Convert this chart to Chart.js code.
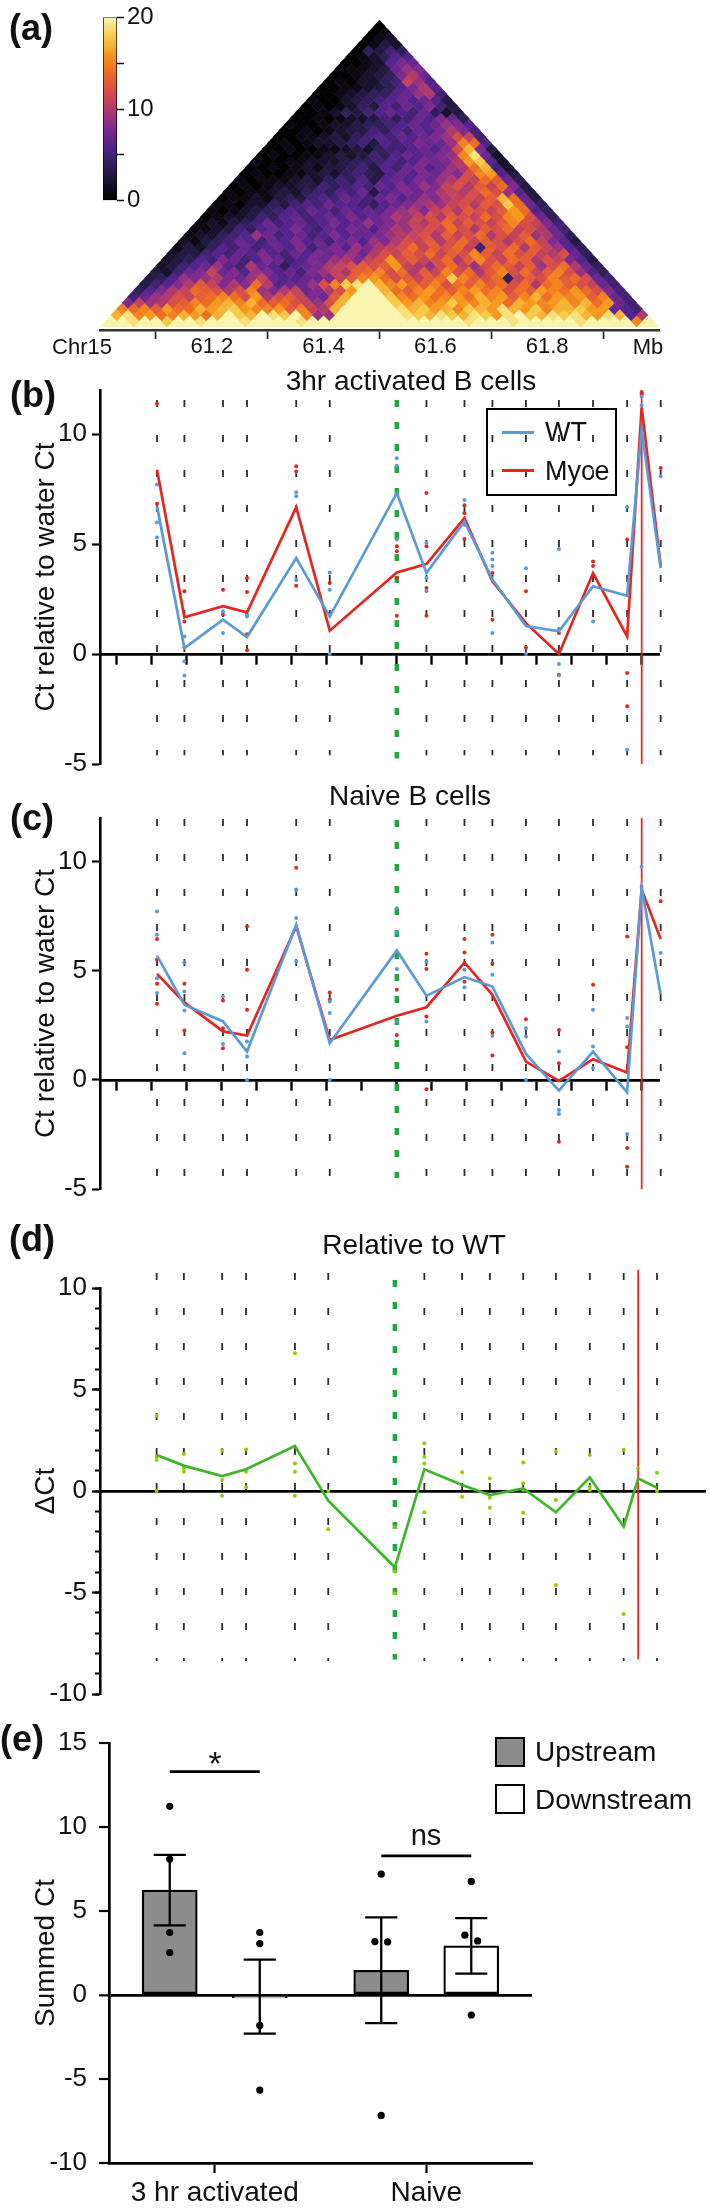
<!DOCTYPE html>
<html>
<head>
<meta charset="utf-8">
<script src="https://cdn.jsdelivr.net/npm/chart.js@4.4.0/dist/chart.umd.min.js"></script>
<style>
  html, body { margin: 0; padding: 0; background: #fff; }
  #page { position: relative; width: 709px; height: 2210px; overflow: hidden;
          font-family: 'Liberation Sans', Arial, Helvetica, sans-serif; font-stretch: normal; color: #111; }
  canvas { position: absolute; left: 0; }
  .c { position: absolute; transform: translate(-50%, -50%); line-height: 1; white-space: nowrap; }
  .l { position: absolute; transform: translate(0, -50%); line-height: 1; white-space: nowrap; }
  .tag { font-weight: bold; font-size: 36px; }
  .ttl { font-size: 28px; }
  .box { position: absolute; box-sizing: border-box; border: 2px solid #000; }
  .swatch { position: absolute; height: 3px; width: 32px; }
</style>
</head>
<body>
<div id="page">
  <canvas id="hic" width="709" height="360" style="top:0px"></canvas>
  <canvas id="cbar" width="130" height="218" style="top:0px; left:60px"></canvas>
  <canvas id="panelB" width="709" height="440" style="top:355px"></canvas>
  <canvas id="panelC" width="709" height="420" style="top:795px"></canvas>
  <canvas id="panelD" width="709" height="500" style="top:1215px"></canvas>
  <canvas id="panelE" width="709" height="495" style="top:1715px"></canvas>

  <div class="c tag" style="left:31px; top:28px">(a)</div>
  <div class="c tag" style="left:33px; top:395px">(b)</div>
  <div class="c tag" style="left:32px; top:818px">(c)</div>
  <div class="c tag" style="left:32px; top:1239px">(d)</div>
  <div class="c tag" style="left:22px; top:1739px">(e)</div>

  <div class="c" style="left:82px; top:347px; font-size:22px">Chr15</div>
  <div class="c" style="left:648px; top:347px; font-size:22px">Mb</div>

  <div class="c ttl" style="left:411px; top:381px">3hr activated B cells</div>
  <div class="c ttl" style="left:410px; top:796px">Naive B cells</div>
  <div class="c ttl" style="left:414px; top:1245px">Relative to WT</div>

  <div class="box" style="left:486px; top:408px; width:131px; height:88px"></div>
  <div class="swatch" style="left:502px; top:431px; background:#5a9ad6"></div>
  <div class="swatch" style="left:502px; top:469px; background:#e4261f"></div>
  <div class="l" style="left:545px; top:432px; font-size:27px">WT</div>
  <div class="l" style="left:545px; top:471px; font-size:27px">Myce</div>

  <div class="box" style="left:495px; top:1737px; width:30px; height:30px; background:#8c8c8c"></div>
  <div class="box" style="left:495px; top:1784px; width:30px; height:30px; background:#fff"></div>
  <div class="l" style="left:535px; top:1752px; font-size:28px">Upstream</div>
  <div class="l" style="left:535px; top:1800px; font-size:28px">Downstream</div>

  <div class="c" style="left:215px; top:1763px; font-size:34px">*</div>
  <div class="c" style="left:426px; top:1835px; font-size:29px">ns</div>
</div>

<script>
// ---------- (a) Hi-C map, one string per diagonal distance, one char per bin (base-36 level 0..20)
const hicStart = 61.0;
const hicBin = 0.02;
const hicRows = [
  "kkkkkkkkkkkkkkkkkkkkkkkkkkkkkkkkkkkkkkkkkkkkkkkkkk",
  "kkjkkikkjkkkjkkkkjkkkkkkkkkkkkkkjkkkjkkkkkjkkkkfk",
  "hjfgefhgehkihkjikf99kkkkkkjihjihjigjkihjijhgjh6a",
  "fefdgeehghigffgdfbahkkkkkjhighfihgjhgifhhigg765",
  "8b9acdfeghfhedecb9chkkkkighfgigfhgehgfghfheg75",
  "579acbdefecgacdb87dhkkkifegefgehfgdfhegfgdf75",
  "468abedcacf98ab78acgkkhedfgedfgefcedgfegec85",
  "3568adb8a8ea6779cfijkhfgedfcedfdeceaefdcb75",
  "346989a879b766778bdfgecdbdeifdce4bdcfdec75",
  "32578b7869867589badefceadbfceadfcebdfc964",
  "23567965a764678abcdcdgba9ceb9cedbd9cea74",
  "2346587568756879a8bcgcdbceadfcbedacb863",
  "233565768657687897acbdcebdcfdbecdbac74",
  "132465756768578698abcebdceb5dceadb964",
  "2134576576867578698acbdacebdcaceb863",
  "1224569756756867789abcadbceacbd9a74",
  "112354676865768768a9bcbecadcebca75",
  "1213457567568679789bacebdcbdfcb85",
  "01223546756768678a9bcadcbecfgc74",
  "101234565765767689a8bcadcbdge64",
  "1102243565766546789a9bcadcie74",
  "01121343565765786798abcbdhe73",
  "1011232454657367878abacec963",
  "0101223354565768798bcadbe83",
  "1011123245463676879acbed74",
  "01001123245436768798cfg63",
  "0010121334536578679aeh52",
  "100112223445656878agi62",
  "010011232354676789fj72",
  "00100112324556768ch83",
  "01012234536568779fe6",
  "0011232456576789cb5",
  "001012335465768a85",
  "10012234456767986",
  "0010122354576874",
  "001243567657423",
  "01012436576853",
  "1002345676763",
  "0012344679a5",
  "001123468a6",
  "0102245b96",
  "0012348a7",
  "01123798",
  "0012687",
  "012466",
  "04354",
  "0132",
  "012",
  "01",
  "0"
];
const mbTicks = [61.0, 61.1, 61.2, 61.3, 61.4, 61.5, 61.6, 61.7, 61.8, 61.9, 62.0];
const mbTickLabels = ['', '', '61.2', '', '61.4', '', '61.6', '', '61.8', '', ''];
const colorbarTicks = [0, 5, 10, 15, 20];
const colorbarLabels = ['0', '', '10', '', '20'];

// ---------- (b)-(d) primer positions along chr15 (Mb)
const probePos = [61.102, 61.151, 61.220, 61.263, 61.351, 61.411, 61.531, 61.584,
                  61.652, 61.702, 61.762, 61.821, 61.882, 61.943, 61.969, 62.003];
const greenIdx = 6;
const redIdx = 14;
const zeroAxisTicks = [61.030, 61.093, 61.155, 61.218, 61.280, 61.343, 61.406, 61.468,
                       61.531, 61.593, 61.656, 61.719, 61.781, 61.844, 61.906, 61.969];

// (b) 3hr activated, mean lines
const actWT   = [6.71, 0.27, 1.56, 0.77, 4.36, 1.70, 7.32, 3.68, 6.03, 3.38, 1.27, 1.03, 3.08, 2.65, 10.2, 3.9];
const actMyce = [8.38, 1.67, 2.17, 1.89, 6.67, 1.06, 3.71, 4.09, 6.18, 3.30, 1.40, 0.00, 3.68, 0.80, 11.2, 4.0];
// replicates: [probe index, value]
const actWTReps = [[0,7.7],[0,5.98],[0,5.3],[1,0.8],[1,-0.33],[1,-0.98],[2,1.94],[2,0.95],
  [3,1.71],[3,1.79],[4,7.35],[4,7.17],[4,3.38],[5,3.71],[5,2.92],[5,0],[6,8.9],[6,8.56],[6,5.2],
  [7,5.05],[7,3.45],[7,2.85],[8,7.0],[8,5.88],[9,4.6],[9,4.29],[9,4.0],[9,0.95],[10,3.9],[10,0],
  [11,4.77],[11,1.15],[11,-0.45],[11,-0.98],[12,1.48],[13,6.67],[13,-4.35],[14,11.7],[14,11.3],
  [15,8.08],[15,7.55]];
const actMyceReps = [[0,11.38],[0,6.83],[1,2.85],[1,1.48],[1,0.3],[2,2.92],[2,1.79],[3,3.45],
  [3,2.82],[3,0.9],[3,0.17],[4,8.53],[4,8.3],[4,3.1],[5,3.23],[6,4.9],[6,4.67],[6,3.45],[6,1.74],
  [7,7.32],[7,4.9],[7,3.0],[7,1.74],[8,6.76],[8,6.4],[8,5.23],[9,3.68],[9,1.56],[10,2.85],[10,0.3],
  [11,0.95],[11,-0.94],[12,4.2],[12,4.0],[13,5.2],[13,-0.86],[13,-2.38],[14,11.9],[14,11.8],
  [15,8.45],[15,8.3]];

// (c) naive
const naiveWT   = [5.69, 3.44, 2.68, 1.30, 7.11, 1.68, 5.93, 3.85, 4.71, 4.28, 1.19, -0.49, 1.30, -0.57, 8.79, 3.9];
const naiveMyce = [4.86, 3.55, 2.22, 2.03, 7.03, 1.83, 2.94, 3.33, 5.38, 3.90, 0.84, -0.05, 0.95, 0.34, 8.72, 6.45];
const naiveWTReps = [[0,7.72],[0,6.65],[0,4.66],[0,3.98],[1,5.38],[1,4.05],[1,3.18],[1,1.22],
  [2,3.82],[2,1.64],[3,1.76],[3,1.07],[3,0],[4,8.72],[4,7.42],[4,5.43],[4,8.7],[5,3.59],[5,3.06],[5,0],
  [6,7.87],[6,6.76],[6,5.08],[6,2.68],[7,5.43],[7,2.68],[8,5.05],[8,4.25],[9,6.3],[9,4.82],[9,2.02],
  [10,2.37],[10,1.99],[10,0],[11,1.3],[11,-1.38],[11,-1.56],[12,3.21],[12,1.53],[12,0.54],
  [13,2.83],[13,2.45],[13,-2.48],[14,9.77],[14,8.85],[15,5.81],[15,3.44],[15,2.83]];
const naiveMyceReps = [[0,6.45],[0,5.5],[0,4.4],[0,3.49],[1,4.4],[1,2.26],[2,3.64],[2,2.37],[2,1.45],
  [3,5.05],[3,3.21],[3,7.03],[4,9.72],[5,4.0],[5,3.67],[6,4.13],[6,2.06],[7,5.78],[7,5.08],[7,2.9],
  [7,-0.43],[8,6.45],[8,5.84],[8,4.5],[9,6.65],[9,5.32],[9,2.17],[9,1.12],[10,2.78],[11,2.29],
  [11,0.76],[11,-2.84],[12,4.36],[13,6.57],[13,1.5],[13,-3.12],[13,-3.98],[15,8.18],[15,7.77],
  [15,5.5],[15,4.36]];

// (d) delta Ct relative to WT
const deltaCt = [1.77, 1.25, 0.74, 1.07, 2.22, -0.48, -3.76, 1.07, 0.30, -0.20, 0.13, -1.05, 0.67, -1.76, 0.62, 0.16];
const deltaReps = [[0,3.71],[0,1.69],[0,1.53],[0,0],[1,1.82],[1,1.12],[1,0.95],[2,1.99],[2,0.54],
  [2,-0.23],[3,2.05],[3,0.95],[3,0.18],[4,6.78],[4,1.36],[4,0.95],[4,-0.23],[5,0],[5,-1.89],
  [6,-1.79],[6,-3.97],[6,-5.04],[7,2.35],[7,1.69],[7,1.36],[7,-1.05],[8,0.92],[8,-0.28],
  [9,0.62],[9,-0.33],[9,-0.82],[10,1.41],[10,0.38],[10,0.05],[10,-1.07],[11,1.94],[11,-0.44],
  [11,-4.63],[12,1.77],[12,0.21],[12,0.05],[13,2.02],[13,-6.06],[14,1.12],[15,0.9],[15,0]];

// (e) summed Ct
const conditions = ['3 hr activated', 'Naive'];
const upstreamMean = [6.24, 1.47];
const upstreamSem = [2.1, 3.15];
const downstreamMean = [-0.1, 2.92];
const downstreamSem = [2.2, 1.65];
const upstreamPts = [[11.23, 8.09, 3.72, 2.53], [7.19, 3.18, 3.16, -7.17]];
const downstreamPts = [[3.72, 3.06, -1.81, -5.66], [6.76, 3.56, 3.22, -1.19]];
const upstreamJitter = [[0, 0, 0, 0], [0, -0.03, 0.03, 0]];
const downstreamJitter = [[0, 0, 0, 0], [0, -0.03, 0.03, 0]];
const sigLevels = [13.3, 8.28];

// ---------- colour map for the Hi-C panel
const cmapStops = [[0,'#000000'],[2,'#171229'],[4,'#311f5c'],[6,'#55238c'],[8,'#7f2a8e'],
  [10,'#b03b6b'],[12,'#d74f47'],[14,'#ee6d25'],[16,'#f69a1f'],[18,'#f7cb4a'],[20,'#f9f4ae']];

function hexRgb(h) {
  const n = parseInt(h.slice(1), 16);
  return [n >> 16, (n >> 8) & 255, n & 255];
}
function colorFor(v) {
  for (let k = 1; k < cmapStops.length; k++) {
    if (v <= cmapStops[k][0]) {
      const [v0, c0] = cmapStops[k - 1];
      const [v1, c1] = cmapStops[k];
      const t = (v - v0) / (v1 - v0);
      const a = hexRgb(c0), b = hexRgb(c1);
      return 'rgb(' + a.map((x, q) => Math.round(x + (b[q] - x) * t)).join(',') + ')';
    }
  }
  return cmapStops[cmapStops.length - 1][1];
}

Chart.defaults.font.family = "'Liberation Sans', Arial, Helvetica, sans-serif";
Chart.defaults.color = '#111';
Chart.defaults.animation = false;
Chart.defaults.events = [];
Chart.defaults.plugins.legend.display = false;
Chart.defaults.plugins.tooltip.enabled = false;

// ---------- (a) heatmap
const hicPoints = [];
hicRows.forEach((row, d) => {
  for (let i = 0; i < row.length; i++) {
    hicPoints.push({ x: hicStart + (i + d / 2 + 0.5) * hicBin, y: d, v: parseInt(row[i], 36) });
  }
});

new Chart(document.getElementById('hic'), {
  type: 'scatter',
  data: {
    datasets: [{
      data: hicPoints,
      pointStyle: 'rectRot',
      pointRadius: 6.15,
      pointBorderWidth: 0,
      pointBackgroundColor: ctx => ctx.raw ? colorFor(ctx.raw.v) : '#000',
      clip: { left: 0, top: 0, right: 0, bottom: -2.8 }
    }]
  },
  options: {
    responsive: false,
    devicePixelRatio: 1,
    layout: { padding: { left: 100, right: 50, top: 20, bottom: 0 } },
    scales: {
      x: {
        type: 'linear', min: 61, max: 62,
        afterBuildTicks: s => { s.ticks = mbTicks.map(v => ({ value: v })); },
        afterFit: s => { s.height = 30; },
        ticks: { autoSkip: false, maxRotation: 0, padding: -5, font: { size: 22 },
                 callback: (v, i) => mbTickLabels[i] },
        grid: { drawOnChartArea: false, tickLength: 9, tickWidth: 1.6,
                tickColor: ctx => ctx.index % 2 ? '#222' : 'rgba(0,0,0,0)' },
        border: { color: '#333', width: 2.5 }
      },
      y: { display: false, min: -0.45, max: 50 }
    }
  }
});

// colour bar
new Chart(document.getElementById('cbar'), {
  type: 'bar',
  data: {
    labels: ['scale'],
    datasets: [{
      data: [[0, 20]],
      barPercentage: 1, categoryPercentage: 1,
      borderColor: '#000', borderWidth: 1, borderSkipped: false,
      backgroundColor: ctx => {
        const area = ctx.chart.chartArea;
        if (!area) return '#888';
        const g = ctx.chart.ctx.createLinearGradient(0, area.bottom, 0, area.top);
        cmapStops.forEach(([v, c]) => g.addColorStop(v / 20, c));
        return g;
      }
    }]
  },
  options: {
    responsive: false,
    devicePixelRatio: 1,
    layout: { padding: { left: 43, right: 0, top: 16, bottom: 15 } },
    scales: {
      x: { display: false },
      y: {
        position: 'right', min: 0, max: 20,
        afterBuildTicks: s => { s.ticks = colorbarTicks.map(v => ({ value: v })); },
        afterFit: s => { s.width = 73; },
        ticks: { padding: 3, font: { size: 24 }, callback: (v, i) => colorbarLabels[i] },
        grid: { drawOnChartArea: false, tickLength: 7, tickWidth: 1.5, tickColor: '#111' },
        border: { display: false }
      }
    }
  }
});

// ---------- (b)-(d) profiles
function profileChart(id, cfg) {
  const datasets = [];
  const xy = (k, v) => ({ x: probePos[k], y: v });
  cfg.lines.forEach(s => datasets.push({
    data: s.values.map((v, k) => xy(k, v)),
    showLine: true, borderColor: s.color, borderWidth: 2.7, pointRadius: 0, clip: false
  }));
  cfg.reps.forEach(s => datasets.push({
    data: s.points.map(([k, v]) => xy(k, v)),
    pointRadius: 2, pointBackgroundColor: s.color, pointBorderWidth: 0, clip: false
  }));
  datasets.push({
    data: [xy(redIdx, cfg.top), xy(redIdx, cfg.redBottom)],
    showLine: true, borderColor: '#e8231e', borderWidth: 1.7, pointRadius: 0, clip: false
  });
  datasets.push({
    data: [xy(greenIdx, cfg.top), xy(greenIdx, cfg.greenBottom)],
    showLine: true, borderColor: '#1fa83c', borderWidth: 4.5, borderDash: [7, 15],
    borderDashOffset: cfg.greenOffset, borderCapStyle: 'butt', pointRadius: 0, clip: false
  });
  probePos.forEach((p, k) => {
    if (k === greenIdx || k === redIdx) return;
    datasets.push({
      data: [xy(k, cfg.top), xy(k, cfg.dashBottom)],
      showLine: true, borderColor: '#2b2b2b', borderWidth: 1.8, borderDash: [7, 28],
      borderDashOffset: cfg.dashOffset, pointRadius: 0, clip: false
    });
  });

  const scales = {
    x: {
      type: 'linear', min: 61, max: cfg.xMax, position: { y: 0 },
      afterBuildTicks: s => { s.ticks = zeroAxisTicks.map(v => ({ value: v })); },
      afterFit: s => { s.height = 0; },
      ticks: { display: false },
      grid: { drawOnChartArea: false, drawTicks: cfg.zeroTicks, tickLength: 9, tickWidth: 2.4, tickColor: '#000' },
      border: { color: '#000', width: 2.7 }
    },
    y: {
      type: 'linear', min: cfg.yMin, max: cfg.yMax, weight: 1,
      afterBuildTicks: s => { s.ticks = s.ticks.filter(t => Math.abs(t.value % 5) < 1e-6); },
      afterFit: s => { s.width = 75; },
      ticks: { stepSize: 5, font: { size: 26 }, padding: 5 },
      grid: { drawOnChartArea: false, tickLength: 8, tickWidth: 2.2, tickColor: '#000' },
      border: { color: '#000', width: 2.6 },
      title: { display: true, text: cfg.yTitle, font: { size: 28 }, padding: { top: 4, bottom: 0 } }
    }
  };
  if (cfg.minorTicks) {
    scales.yMinor = {
      type: 'linear', position: 'left', weight: 0, min: cfg.yMin, max: cfg.yMax,
      afterFit: s => { s.width = 0; },
      ticks: { display: false, stepSize: 1 },
      grid: { drawOnChartArea: false, tickLength: 5, tickWidth: 2, tickColor: '#000' },
      border: { display: false }
    };
  }
  datasets.forEach(ds => { ds.xAxisID = 'x'; ds.yAxisID = 'y'; });

  return new Chart(document.getElementById(id), {
    type: 'scatter',
    data: { datasets },
    options: {
      responsive: false,
      devicePixelRatio: 1,
      layout: { padding: { left: 25, right: cfg.padRight, top: cfg.padTop, bottom: cfg.padBottom } },
      scales
    }
  });
}

profileChart('panelB', {
  lines: [{ values: actWT, color: '#5a9ad6' }, { values: actMyce, color: '#e4261f' }],
  reps: [{ points: actWTReps, color: '#5a9ad6' }, { points: actMyceReps, color: '#e4261f' }],
  yMin: -5, yMax: 12, xMax: 62, yTitle: 'Ct relative to water Ct',
  top: 12, dashBottom: -4.6, redBottom: -5, greenBottom: -4.75,
  dashOffset: 25, greenOffset: 12, zeroTicks: true,
  padTop: 35, padBottom: 31, padRight: 50
});

profileChart('panelC', {
  lines: [{ values: naiveWT, color: '#5a9ad6' }, { values: naiveMyce, color: '#e4261f' }],
  reps: [{ points: naiveWTReps, color: '#5a9ad6' }, { points: naiveMyceReps, color: '#e4261f' }],
  yMin: -5, yMax: 12, xMax: 62, yTitle: 'Ct relative to water Ct',
  top: 12, dashBottom: -4.5, redBottom: -5, greenBottom: -4.5,
  dashOffset: 34, greenOffset: 20, zeroTicks: true,
  padTop: 23, padBottom: 26, padRight: 50
});

profileChart('panelD', {
  lines: [{ values: deltaCt, color: '#3fb52c' }],
  reps: [{ points: deltaReps, color: '#8fd000' }],
  yMin: -10, yMax: 10, xMax: 62.0894, yTitle: '\u0394Ct', minorTicks: true,
  top: 10.9, dashBottom: -8.37, redBottom: -8.3, greenBottom: -8.3,
  dashOffset: 31.7, greenOffset: 11.7, zeroTicks: false,
  padTop: 73, padBottom: 21, padRight: 0
});

// ---------- (e) summed Ct bars, on a numeric axis where each condition is one unit wide
const barShift = 0.2128;   // offset of each bar from its condition centre
const capHalf = 0.076;
const groups = [
  { name: 'Upstream', mean: upstreamMean, sem: upstreamSem, pts: upstreamPts, jit: upstreamJitter,
    shift: -barShift, fill: '#8c8c8c' },
  { name: 'Downstream', mean: downstreamMean, sem: downstreamSem, pts: downstreamPts, jit: downstreamJitter,
    shift: barShift, fill: '#ffffff' }
];
const eDatasets = [];
const seg = (pts, w) => ({
  type: 'line', data: pts, borderColor: '#000', borderWidth: w || 2.3,
  pointRadius: 0, clip: false
});
groups.forEach(g => {
  eDatasets.push({
    type: 'line', showLine: false, pointRadius: 3.6,
    pointBackgroundColor: '#000', pointBorderWidth: 0,
    data: g.pts.flatMap((vals, k) => vals.map((v, q) => ({ x: k + g.shift + g.jit[k][q], y: v })))
  });
});
groups.forEach(g => {
  g.mean.forEach((m, k) => {
    const x0 = k + g.shift, hi = m + g.sem[k], lo = m - g.sem[k];
    eDatasets.push(seg([{ x: x0, y: lo }, { x: x0, y: hi }]));
    eDatasets.push(seg([{ x: x0 - capHalf, y: hi }, { x: x0 + capHalf, y: hi }]));
    eDatasets.push(seg([{ x: x0 - capHalf, y: lo }, { x: x0 + capHalf, y: lo }]));
  });
});
sigLevels.forEach((lv, k) => {
  eDatasets.push(seg([{ x: k - barShift, y: lv }, { x: k + barShift, y: lv }], 2.7));
});
groups.forEach(g => {
  eDatasets.push({
    type: 'bar', label: g.name,
    data: g.mean.map((m, k) => ({ x: k + g.shift, y: m })),
    backgroundColor: g.fill, borderColor: '#000', borderWidth: 2.2, borderSkipped: false,
    grouped: false, barThickness: 55, minBarLength: 3
  });
});

new Chart(document.getElementById('panelE'), {
  type: 'bar',
  data: { datasets: eDatasets },
  options: {
    responsive: false,
    devicePixelRatio: 1,
    layout: { padding: { left: 25, right: 177, top: 28, bottom: 0 } },
    scales: {
      x: {
        type: 'linear', min: -0.5, max: 1.5, offset: false,
        afterBuildTicks: s => { s.ticks = conditions.map((c, k) => ({ value: k })); },
        afterFit: s => { s.height = 47; },
        ticks: { font: { size: 28 }, padding: 3, maxRotation: 0, autoSkip: false,
                 callback: (v, i) => conditions[i] },
        grid: { offset: false, drawOnChartArea: false, tickLength: 10, tickWidth: 2.2, tickColor: '#000' },
        border: { color: '#000', width: 2.7 }
      },
      y: {
        min: -10, max: 15,
        afterFit: s => { s.width = 84; },
        ticks: { stepSize: 5, font: { size: 26 }, padding: 12 },
        grid: {
          color: ctx => (ctx.tick && ctx.tick.value === 0) ? '#000' : 'rgba(0,0,0,0)',
          lineWidth: ctx => (ctx.tick && ctx.tick.value === 0) ? 2.7 : 0,
          tickLength: 10, tickWidth: 2.2, tickColor: '#000'
        },
        border: { color: '#000', width: 2.7 },
        title: { display: true, text: 'Summed Ct', font: { size: 28 }, padding: { top: 4, bottom: 0 } }
      }
    }
  }
});
</script>
</body>
</html>
